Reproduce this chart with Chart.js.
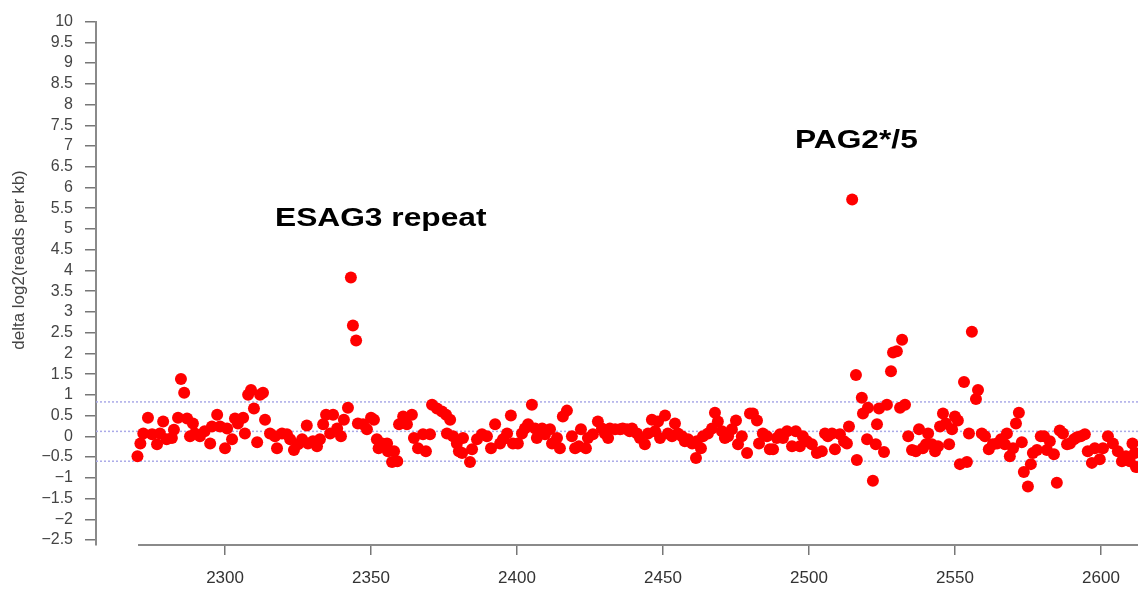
<!DOCTYPE html>
<html>
<head>
<meta charset="utf-8">
<script src="https://cdn.jsdelivr.net/npm/chart.js@4/dist/chart.umd.min.js"></script>
<style>
  body { margin: 0; background: #fff; }
  #plot { display: block; }
</style>
</head>
<body>
<canvas id="plot" width="1138" height="595"></canvas>
<script>
// position along the chromosome (kb) and delta log2(reads per kb)
const posX = [
  2270, 2271, 2272, 2273.6, 2275, 2276.7, 2277.7, 2278.8, 2280, 2281.8,
  2282.5, 2283.9, 2284.9, 2286, 2287, 2288, 2289, 2289.7, 2291.4, 2293,
  2294.9, 2295.5, 2297.3, 2298.3, 2300, 2300.7, 2302.4, 2303.4, 2304.4, 2306.2,
  2306.8, 2307.9, 2308.9, 2309.9, 2311, 2312, 2313, 2313.7, 2315.4, 2317.1,
  2317.8, 2319.5, 2321.2, 2322.3, 2323.6, 2325, 2326.4, 2328, 2328.4, 2330.1,
  2331.5, 2332.5, 2333.6, 2334.6, 2336, 2337, 2338.4, 2339.7, 2340.7, 2342.1,
  2343.1, 2343.8, 2344.9, 2345.5, 2347.3, 2348.6, 2350, 2351, 2352, 2352.6,
  2353.8, 2355.5, 2355.8, 2357.2, 2357.9, 2359, 2359.6, 2361, 2362.3, 2364,
  2364.7, 2366.1, 2367.8, 2368.8, 2370.2, 2370.9, 2372.6, 2374.3, 2375.7, 2376,
  2377.1, 2378.1, 2379.4, 2380.1, 2381.2, 2381.5, 2383.9, 2384.6, 2386.3, 2388,
  2389.7, 2391.1, 2392.5, 2394.2, 2395.2, 2396.6, 2397.9, 2398.6, 2400.3, 2401.7,
  2402.7, 2403.8, 2405.1, 2406.2, 2406.8, 2408.6, 2409.6, 2411.3, 2412, 2413.7,
  2414.7, 2415.7, 2417.1, 2418.8, 2419.9, 2421.2, 2421.9, 2423.6, 2424.3, 2426,
  2427.7, 2429.1, 2430.1, 2431.2, 2431.8, 2433.6, 2435.3, 2436.2, 2437.7, 2438.6,
  2439.4, 2441.1, 2442.1, 2443.8, 2444.9, 2446.2, 2447.3, 2448.3, 2449, 2450.7,
  2451.7, 2453.1, 2454.1, 2455.1, 2456.5, 2457.5, 2458.6, 2460, 2461.3, 2461.6,
  2463, 2463.7, 2465.4, 2466.8, 2467.8, 2468.8, 2470.2, 2471.2, 2472.3, 2473.6,
  2475, 2475.7, 2477, 2478.8, 2479.8, 2480.8, 2482.2, 2482.9, 2484.2, 2485.6,
  2486.6, 2487.7, 2489, 2490.1, 2491.1, 2492.5, 2494.2, 2495.5, 2496.9, 2497.9,
  2499.3, 2501, 2502.7, 2504.4, 2505.5, 2506.5, 2507.9, 2508.9, 2510.6, 2512,
  2513, 2513.7, 2514.8, 2516.1, 2516.4, 2518.1, 2518.5, 2519.9, 2520.2, 2521.9,
  2522.9, 2523.3, 2524, 2525.7, 2526.7, 2528.1, 2528.8, 2530.1, 2531.2, 2531.9,
  2532.9, 2534, 2535.3, 2536.6, 2537.7, 2539, 2540.1, 2540.8, 2542.1, 2543.2,
  2544.2, 2544.9, 2545.9, 2546.9, 2548, 2549, 2550, 2551, 2551.7, 2553.1,
  2554.1, 2554.8, 2555.8, 2557.2, 2557.9, 2559.2, 2560.3, 2561.6, 2563, 2564.4,
  2565.8, 2567.1, 2567.8, 2568.8, 2569.9, 2570.9, 2571.9, 2572.9, 2573.6, 2575,
  2576, 2576.7, 2578.1, 2579.4, 2580.5, 2581.5, 2582.5, 2583.9, 2584.9, 2585.9,
  2587, 2588.4, 2589.4, 2590.8, 2591.8, 2593.1, 2594.5, 2595.5, 2596.9, 2597.9,
  2599.6, 2600.7, 2602.4, 2604.1, 2605.8, 2607.2, 2608.6, 2609.9, 2610.8, 2611.6,
  2612
];
const log2Delta = [
  -0.48, -0.17, 0.07, 0.45, 0.05, -0.19, 0.07, 0.36, -0.07, -0.04,
  0.16, 0.45, 1.38, 1.05, 0.43, 0.0, 0.31, 0.07, 0.0, 0.12,
  -0.17, 0.24, 0.52, 0.24, -0.29, 0.19, -0.07, 0.43, 0.31, 0.45,
  0.07, 1.0, 1.12, 0.67, -0.14, 1.0, 1.05, 0.40, 0.07, 0.0,
  -0.29, 0.07, 0.05, -0.07, -0.33, -0.19, -0.07, 0.26, -0.17, -0.12,
  -0.24, -0.07, 0.29, 0.52, 0.07, 0.52, 0.19, 0.0, 0.40, 0.69,
  3.83, 2.67, 2.31, 0.31, 0.29, 0.17, 0.45, 0.40, -0.07, -0.29,
  -0.17, -0.17, -0.36, -0.62, -0.36, -0.6, 0.29, 0.48, 0.29, 0.52,
  -0.04, -0.29, 0.05, -0.36, 0.05, 0.76, 0.67, 0.6, 0.52, 0.07,
  0.40, 0.0, -0.17, -0.36, -0.40, -0.04, -0.62, -0.31, -0.07, 0.05,
  0.0, -0.29, 0.29, -0.17, -0.07, 0.07, 0.50, -0.17, -0.17, 0.07,
  0.19, 0.29, 0.76, 0.19, -0.04, 0.19, 0.05, 0.17, -0.17, -0.04,
  -0.29, 0.48, 0.62, 0.0, -0.29, -0.24, 0.17, -0.29, -0.04, 0.05,
  0.36, 0.19, 0.07, -0.04, 0.19, 0.17, 0.17, 0.19, 0.17, 0.12,
  0.19, 0.07, -0.04, -0.19, 0.07, 0.40, 0.12, 0.36, -0.04, 0.50,
  0.07, 0.0, 0.31, 0.07, 0.0, -0.12, -0.07, -0.17, -0.52, -0.12,
  -0.29, 0.0, 0.07, 0.19, 0.57, 0.36, 0.12, -0.04, 0.0, 0.17,
  0.38, -0.19, 0.0, -0.40, 0.55, 0.55, 0.38, -0.17, 0.07, 0.0,
  -0.31, -0.31, -0.04, 0.05, -0.04, 0.12, -0.24, 0.12, -0.24, 0.0,
  -0.12, -0.19, -0.40, -0.36, 0.07, 0.0, 0.07, -0.31, 0.05, -0.12,
  -0.17, 0.24, 5.71, 1.48, -0.57, 0.93, 0.55, -0.07, 0.69, -1.07,
  -0.19, 0.29, 0.67, -0.38, 0.76, 1.57, 2.02, 2.05, 0.69, 2.33,
  0.76, 0.0, -0.33, -0.36, 0.17, -0.29, -0.19, 0.07, -0.19, -0.36,
  -0.24, 0.24, 0.55, 0.31, -0.19, 0.17, 0.48, 0.38, -0.67, 1.31,
  -0.62, 0.07, 2.52, 0.90, 1.12, 0.07, 0.0, -0.31, -0.19, -0.17,
  -0.07, -0.19, 0.07, -0.48, -0.29, 0.31, 0.57, -0.14, -0.86, -1.21,
  -0.67, -0.40, -0.33, 0.0, 0.0, -0.33, -0.12, -0.43, -1.12, 0.14,
  0.07, -0.19, -0.17, -0.07, -0.02, 0.0, 0.05, -0.36, -0.64, -0.29,
  -0.55, -0.29, 0.0, -0.17, -0.36, -0.6, -0.48, -0.6, -0.17, -0.40,
  -0.74
];

// dotted guide levels
const guideLevels = [0.83, 0.12, -0.6];

// axis ticks
const xTicks = [2300, 2350, 2400, 2450, 2500, 2550, 2600];
const yTicks = [];
for (let v = -2.5; v <= 10; v += 0.5) yTicks.push(v);

// region labels (text, x, y of baseline-left)
const regionNames = ["ESAG3 repeat", "PAG2*/5"];
const regionX = [2317.1, 2495.2];
const regionY = [5.07, 6.95];

const X_MIN = 2255.8, X_MAX = 2612.7, X_AXIS_START = 2270.2;
const Y_MIN = -2.62, Y_MAX = 10;
const FONT = "'Liberation Sans', Arial, sans-serif";

const points = posX.map((x, i) => ({ x: x, y: log2Delta[i] }));

const guideSets = guideLevels.map((lvl) => ({
  type: "line",
  data: [{ x: X_MIN, y: lvl }, { x: X_MAX, y: lvl }],
  borderColor: "rgb(170,170,232)",
  borderWidth: 1.5,
  borderDash: [2, 2],
  pointRadius: 0,
  order: 2,
}));

const extras = {
  id: "extras",
  afterDraw(chart) {
    const c = chart.ctx;
    const xs = chart.scales.x, ys = chart.scales.y;
    c.save();
    // x axis line (starts at the first position, not at the y axis)
    c.strokeStyle = "#8a8a8a";
    c.lineWidth = 2;
    c.beginPath();
    c.moveTo(xs.getPixelForValue(X_AXIS_START), ys.bottom);
    c.lineTo(xs.right, ys.bottom);
    c.stroke();

    // y axis title
    c.fillStyle = "#444";
    c.font = "17px " + FONT;
    c.textAlign = "center";
    c.textBaseline = "middle";
    c.translate(19, 260);
    c.rotate(-Math.PI / 2);
    c.fillText("delta log2(reads per kb)", 0, 0);
    c.setTransform(1, 0, 0, 1, 0, 0);

    // region labels (source figure is stretched horizontally)
    c.fillStyle = "#000";
    c.font = "bold 26px " + FONT;
    c.textAlign = "left";
    c.textBaseline = "alphabetic";
    regionNames.forEach((t, i) => {
      c.save();
      c.translate(xs.getPixelForValue(regionX[i]), ys.getPixelForValue(regionY[i]));
      c.scale(1.22, 1);
      c.fillText(t, 0, 0);
      c.restore();
    });
    c.restore();
  },
};

new Chart(document.getElementById("plot"), {
  type: "scatter",
  data: {
    datasets: [
      {
        data: points,
        backgroundColor: "#ff0000",
        borderWidth: 0,
        pointRadius: 6,
        order: 0,
      },
      ...guideSets,
    ],
  },
  options: {
    responsive: false,
    animation: false,
    layout: { autoPadding: false, padding: { top: 15, left: 0, right: 0, bottom: 0 } },
    plugins: { legend: { display: false }, tooltip: { enabled: false } },
    scales: {
      x: {
        type: "linear",
        min: X_MIN,
        max: X_MAX,
        afterFit: (s) => { s.height = 50; },
        afterBuildTicks: (s) => { s.ticks = xTicks.map((v) => ({ value: v })); },
        border: { display: false },
        grid: { drawOnChartArea: false, tickLength: 10, color: "#777", lineWidth: 1.5 },
        ticks: {
          autoSkip: false,
          maxRotation: 0,
          padding: 13,
          color: "#333",
          font: { family: FONT, size: 17 },
          callback: (v) => String(v),
        },
      },
      y: {
        min: Y_MIN,
        max: Y_MAX,
        afterFit: (s) => { s.width = 96; },
        afterBuildTicks: (s) => { s.ticks = yTicks.map((v) => ({ value: v })); },
        border: { color: "#8a8a8a", width: 2 },
        grid: { drawOnChartArea: false, tickLength: 11, color: "#777", lineWidth: 1.5 },
        ticks: {
          autoSkip: false,
          padding: 12,
          color: "#444",
          font: { family: FONT, size: 16 },
          callback: (v) => (v < 0 ? "\u2212" + Math.abs(v) : String(v)),
        },
      },
    },
  },
  plugins: [extras],
});
</script>
</body>
</html>
